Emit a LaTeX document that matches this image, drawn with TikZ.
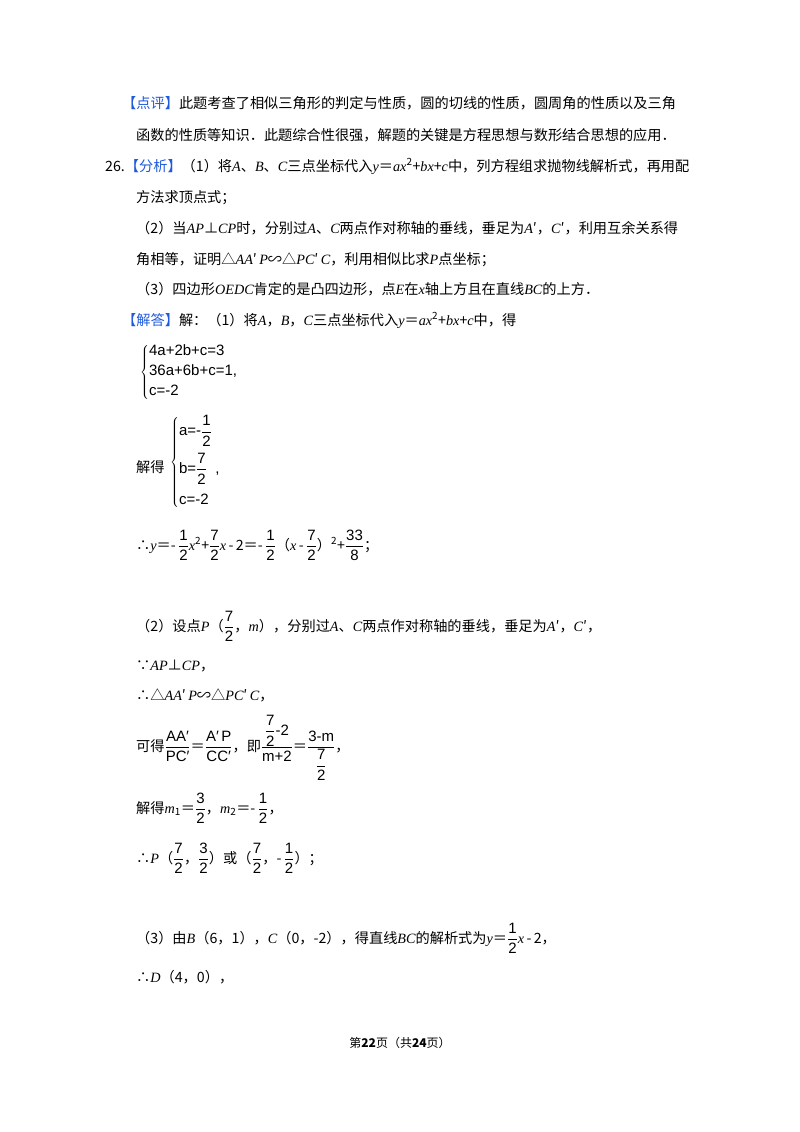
\documentclass[tikz,border=0pt]{standalone}
\usepackage{fontspec}
\setmainfont{Noto Sans CJK SC}
\newfontfamily\tms{Liberation Serif}
\newfontfamily\ar{Liberation Sans}
\newcommand\iv[1]{{\tms\itshape #1}}
\newcommand\fr[2]{$\displaystyle\frac{\mbox{\ar\fontsize{15}{17}\selectfont\rule[-2pt]{0pt}{13pt}#1}}{\mbox{\ar\fontsize{15}{17}\selectfont\rule{0pt}{13pt}#2}}$}
\definecolor{tagblue}{RGB}{30,90,220}
\newcommand\tag[1]{{\color{tagblue}【#1】}}
\begin{document}
\begin{tikzpicture}[x=1pt,y=-1pt,
  t/.style={anchor=base west,inner sep=0pt,font=\fontsize{14.2}{16}\selectfont}]
\useasboundingbox[fill=white] (0,0) rectangle (800,1132);
\node[t] (l1) at (122,108) {\tag{点评}此题考查了相似三角形的判定与性质，圆的切线的性质，圆周角的性质以及三角};
\node[t] (l2) at (136,140) {函数的性质等知识．此题综合性很强，解题的关键是方程思想与数形结合思想的应用．};
\node[t] (l3) at (105,171) {26.\tag{分析}（1）将\iv{A}、\iv{B}、\iv{C}三点坐标代入\iv{y}＝\iv{ax}\textsuperscript{2}+\iv{bx}+\iv{c}中，列方程组求抛物线解析式，再用配};
\node[t] (l4) at (136,202) {方法求顶点式；};
\node[t] (l5) at (136,233) {（2）当\iv{AP}⊥\iv{CP}时，分别过\iv{A}、\iv{C}两点作对称轴的垂线，垂足为\iv{A}′，\iv{C}′，利用互余关系得};
\node[t] (l6) at (136,264) {角相等，证明△\iv{AA}′\,\iv{P}∽△\iv{PC}′\,\iv{C}，利用相似比求\iv{P}点坐标；};
\node[t] (l7) at (136,294) {（3）四边形\iv{OEDC}肯定的是凸四边形，点\iv{E}在\iv{x}轴上方且在直线\iv{BC}的上方．};
\node[t] (l8) at (122,325) {\tag{解答}解：（1）将\iv{A}，\iv{B}，\iv{C}三点坐标代入\iv{y}＝\iv{ax}\textsuperscript{2}+\iv{bx}+\iv{c}中，得};
\node[anchor=west,inner sep=0pt,font=\ar\fontsize{15}{17}\selectfont] (s1) at (140,372) {$\left\{\begin{tabular}{@{}l@{}}4a+2b+c=3\\[3pt]36a+6b+c=1,\\[3pt]c=-2\end{tabular}\right.$};
\node[t] (s2l) at (136,472) {解得};
\node[anchor=west,inner sep=0pt,font=\ar\fontsize{15}{17}\selectfont] (s2) at (170,462) {$\left\{\begin{tabular}{@{}l@{}}a=-\fr{1}{2}\\[12pt]b=\fr{7}{2}\ \ ,\\[14pt]c=-2\end{tabular}\right.$};
\node[t] (l9) at (136,550) {∴\iv{y}＝-\,\fr{1}{2}\iv{x}\textsuperscript{2}+\fr{7}{2}\iv{x}\,-\,2＝-\,\fr{1}{2}（\iv{x}\,-\,\fr{7}{2}）\textsuperscript{2}+\fr{33}{8}；};
\node[t] (l10) at (136,631) {（2）设点\iv{P}（\fr{7}{2}，\iv{m}），分别过\iv{A}、\iv{C}两点作对称轴的垂线，垂足为\iv{A}′，\iv{C}′，};
\node[t] (l11) at (136,670) {∵\iv{AP}⊥\iv{CP}，};
\node[t] (l12) at (136,700) {∴△\iv{AA}′\,\iv{P}∽△\iv{PC}′\,\iv{C}，};
\node[t] (l13) at (136,751) {可得\fr{AA′}{PC′}＝\fr{A′\,P}{CC′}，即$\displaystyle\frac{\mbox{\ar\fontsize{15}{17}\selectfont\fr{7}{2}-2}}{\mbox{\ar\fontsize{15}{17}\selectfont\rule{0pt}{13pt}m+2}}$＝$\displaystyle\frac{\mbox{\ar\fontsize{15}{17}\selectfont 3-m}}{\mbox{\ar\fontsize{15}{17}\selectfont\fr{7}{2}}}$，};
\node[t] (l14) at (136,813) {解得\iv{m}\textsubscript{1}＝\fr{3}{2}，\iv{m}\textsubscript{2}＝-\,\fr{1}{2}，};
\node[t] (l15) at (136,863) {∴\iv{P}（\fr{7}{2}，\fr{3}{2}）或（\fr{7}{2}，-\,\fr{1}{2}）；};
\node[t] (l16) at (136,943) {（3）由\iv{B}（6，1），\iv{C}（0，-2），得直线\iv{BC}的解析式为\iv{y}＝\fr{1}{2}\iv{x}\,-\,2，};
\node[t] (l17) at (136,982) {∴\iv{D}（4，0），};
\node[anchor=base,inner sep=0pt,font=\fontsize{12}{14}\selectfont] (ft) at (400,1047) {第\textbf{22}页（共\textbf{24}页）};
\end{tikzpicture}
\end{document}
